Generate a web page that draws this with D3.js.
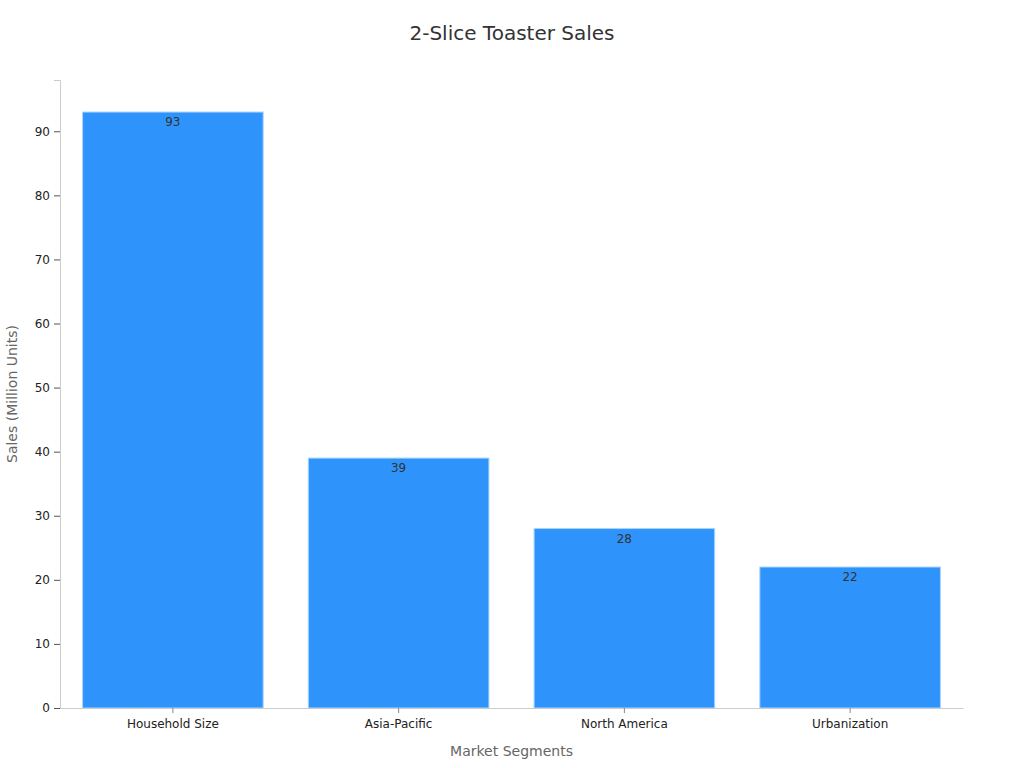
<!DOCTYPE html>
<html>
<head>
<meta charset="utf-8">
<script src="https://cdn.jsdelivr.net/npm/d3@7"></script>
<style>
  body { margin: 0; background: #fff; }
  text { font-family: "DejaVu Sans", sans-serif; }
</style>
</head>
<body>
<svg width="1024" height="768"></svg>
<script>
// chart data
const categories = ["Household Size", "Asia-Pacific", "North America", "Urbanization"];
const sales = [93, 39, 28, 22];
const yTicks = [0, 10, 20, 30, 40, 50, 60, 70, 80, 90];

const svg = d3.select("svg"),
  width = +svg.attr("width"),
  height = +svg.attr("height");

const margin = { top: 80, right: 61, bottom: 60, left: 60 };

const x = d3.scaleBand()
  .domain(categories)
  .range([margin.left, width - margin.right])
  .paddingInner(0.2)
  .paddingOuter(0.1);

const y = d3.scaleLinear()
  .domain([0, 98])
  .range([height - margin.bottom, margin.top]);

// title
svg.append("text")
  .attr("x", width / 2)
  .attr("y", 40)
  .attr("text-anchor", "middle")
  .style("font-size", "20px")
  .style("fill", "#333")
  .text("2-Slice Toaster Sales");

// bars
svg.append("g")
  .selectAll("rect")
  .data(sales)
  .enter().append("rect")
  .attr("x", (d, i) => x(categories[i]))
  .attr("y", d => y(d))
  .attr("width", x.bandwidth())
  .attr("height", d => y(0) - y(d))
  .attr("fill", "#2e93fa")
  .attr("stroke", "#a8d4ff")
  .attr("stroke-width", 1);

// value labels
svg.append("g")
  .selectAll("text")
  .data(sales)
  .enter().append("text")
  .attr("x", (d, i) => x(categories[i]) + x.bandwidth() / 2)
  .attr("y", d => y(d) + 14)
  .attr("text-anchor", "middle")
  .style("font-size", "12px")
  .style("fill", "#333")
  .text(d => d);

// y axis
const yAxis = svg.append("g")
  .attr("transform", `translate(${margin.left},0)`)
  .call(d3.axisLeft(y).tickValues(yTicks).tickSize(6).tickPadding(4));
yAxis.select(".domain").attr("stroke", "#ccc");
yAxis.selectAll(".tick line").attr("stroke", "#555");
yAxis.selectAll(".tick text").style("font-size", "12px").style("fill", "#222");

// x axis
const xAxis = svg.append("g")
  .attr("transform", `translate(0,${height - margin.bottom})`)
  .call(d3.axisBottom(x).tickSize(5).tickSizeOuter(0).tickPadding(6));
xAxis.select(".domain").attr("stroke", "#ccc");
xAxis.selectAll(".tick line").attr("stroke", "#888");
xAxis.selectAll(".tick text").style("font-size", "12px").style("fill", "#222");

// axis titles
svg.append("text")
  .attr("x", (margin.left + width - margin.right) / 2)
  .attr("y", 756)
  .attr("text-anchor", "middle")
  .style("font-size", "14px")
  .style("fill", "#666")
  .text("Market Segments");

svg.append("text")
  .attr("transform", `translate(17,${(margin.top + height - margin.bottom) / 2}) rotate(-90)`)
  .attr("text-anchor", "middle")
  .style("font-size", "14px")
  .style("fill", "#666")
  .text("Sales (Million Units)");
</script>
</body>
</html>
